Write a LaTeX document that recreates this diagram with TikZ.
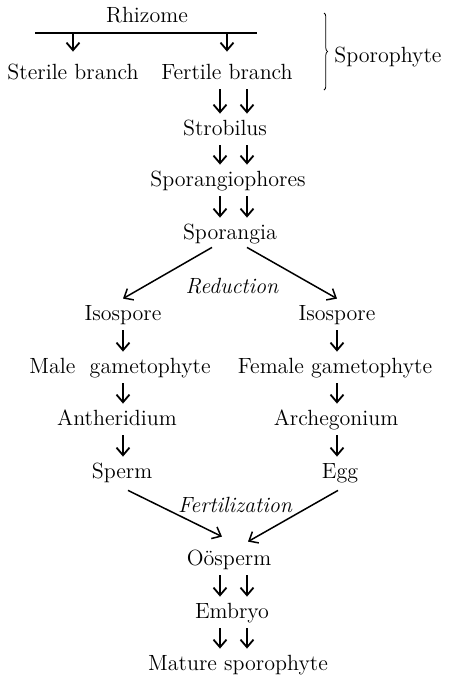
\documentclass[tikz,border=0pt]{standalone}
\usetikzlibrary{arrows.meta,positioning,calc,decorations.pathreplacing}
\tikzset{
  stage label/.style={
    anchor=base,
    font=\fontsize{11}{13}\selectfont,
    text height=8pt,
    text depth=2.5pt,
    inner sep=2.5pt,
  },
  stage arrow/.style={
    -{Straight Barb[length=3.8pt,width=6.5pt]},
    line width=0.9pt,
  },
}

\begin{document}
\begin{tikzpicture}[x=0.5pt,y=-0.5pt]
  \useasboundingbox (0,0) rectangle (449,676);
  \tikzstyle{phase}=[stage label, font=\fontsize{11}{13}\selectfont\itshape]
  \tikzstyle{slant}=[stage arrow, line width=0.75pt]

  % Sporophyte part
  \node[stage label] (rhizome) at (147,22) {Rhizome};
  \coordinate (barL) at (35,33);
  \coordinate (barR) at (257,33);
  \draw[line width=0.7pt] (barL) -- (barR);
  \node[stage label] (sterile) at (73,79) {Sterile branch};
  \node[stage label] (fertile) at (227,79) {Fertile branch};
  \draw[stage arrow, shorten >=3pt] (barL -| sterile) -- (sterile.north);
  \draw[stage arrow, shorten >=3pt] (barL -| fertile) -- (fertile.north);

  \draw[line width=0.4pt, decorate, decoration={brace,amplitude=1.8pt}] (324,13) -- (324,90);
  \node[stage label, anchor=base west] (sporo) at (329,62) {Sporophyte};

  \node[stage label] (strob) at (225,135) {Strobilus};
  \node[stage label] (sphores) at (228,186) {Sporangiophores};
  \node[stage label] (sgia) at (230,239) {Sporangia};

  \coordinate (laneA) at (220,0);
  \coordinate (laneB) at (247,0);
  \foreach \a/\b in {fertile/strob,strob/sphores,sphores/sgia}{
    \foreach \l in {laneA,laneB}{
      \draw[stage arrow] (\l |- \a.south) -- (\l |- \b.north);
    }
  }

  % Gametophyte part
  \node[phase] (reduct) at (232,293) {Reduction};
  \node[stage label] (isoL) at (123,320) {Isospore};
  \node[stage label] (isoR) at (337,320) {Isospore};
  \draw[slant] ($(sgia.south)+(-18,-2)$) -- (isoL.north);
  \draw[slant] ($(sgia.south)+(17,-2)$) -- (isoR.north);

  \node[stage label] (maleg) at (120,373) {Male\ \ gametophyte};
  \node[stage label] (femg) at (335,373) {Female gametophyte};
  \node[stage label] (anth) at (117,425) {Antheridium};
  \node[stage label] (arch) at (336,425) {Archegonium};
  \node[stage label] (sperm) at (122,478) {Sperm};
  \node[stage label] (egg) at (340,478) {Egg};

  \draw[stage arrow] (isoL.south) -- (isoL.south |- maleg.north);
  \draw[stage arrow] (isoL.south |- maleg.south) -- (isoL.south |- anth.north);
  \draw[stage arrow] (isoL.south |- anth.south) -- (isoL.south |- sperm.north);
  \draw[stage arrow] (isoR.south) -- (isoR.south |- femg.north);
  \draw[stage arrow] (isoR.south |- femg.south) -- (isoR.south |- arch.north);
  \draw[stage arrow] (isoR.south |- arch.south) -- (isoR.south |- egg.north);

  % New sporophyte
  \node[phase] (fert) at (235,512) {Fertilization};
  \node[stage label] (oos) at (229,565) {O\"osperm};
  \node[stage label] (embryo) at (232,618) {Embryo};
  \node[stage label] (mature) at (238,670) {Mature sporophyte};
  \draw[slant] ($(sperm.south)+(6,2)$) -- ($(oos.north)+(-7,-7)$);
  \draw[slant] ($(egg.south)+(-2,2)$) -- ($(oos.north)+(19,-2)$);

  \foreach \a/\b in {oos/embryo,embryo/mature}{
    \foreach \l in {laneA,laneB}{
      \draw[stage arrow] (\l |- \a.south) -- (\l |- \b.north);
    }
  }
\end{tikzpicture}
\end{document}
